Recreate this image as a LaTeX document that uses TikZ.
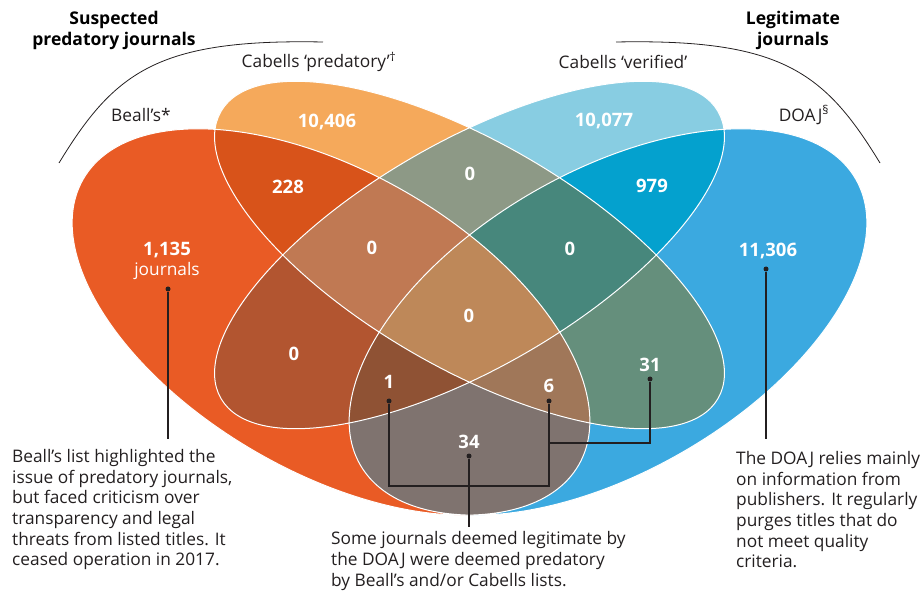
\documentclass[tikz,border=0pt]{standalone}
\usepackage{fontspec}
\setmainfont{Open Sans}

\definecolor{ink}{HTML}{231F20}
\definecolor{onlyA}{HTML}{E95B25}
\definecolor{onlyB}{HTML}{F5A95B}
\definecolor{onlyC}{HTML}{88CDE2}
\definecolor{onlyD}{HTML}{3BA9E0}
\definecolor{pairAB}{HTML}{D8531A}
\definecolor{pairAC}{HTML}{B25530}
\definecolor{pairAD}{HTML}{7F736F}
\definecolor{pairBC}{HTML}{8D9986}
\definecolor{pairBD}{HTML}{658F7C}
\definecolor{pairCD}{HTML}{04A1CE}
\definecolor{tripABC}{HTML}{C07953}
\definecolor{tripABD}{HTML}{A07759}
\definecolor{tripACD}{HTML}{8F5234}
\definecolor{tripBCD}{HTML}{47877C}
\definecolor{quadABCD}{HTML}{BE8859}

% the four sets
\newcommand{\beallsSet}{(331,268) ellipse [x radius=286, y radius=150, rotate=-30]}
\newcommand{\cpredSet}{(469.5,335) ellipse [x radius=287, y radius=113, rotate=-30]}
\newcommand{\cverSet}{(469.5,335) ellipse [x radius=287, y radius=113, rotate=30]}
\newcommand{\doajSet}{(608,268) ellipse [x radius=286, y radius=150, rotate=30]}

\begin{document}
\begin{tikzpicture}[x=1pt, y=1pt,
    numlbl/.style={text=white, font=\bfseries\fontsize{18.5}{18.5}\selectfont, inner sep=0pt},
    setname/.style={text=ink, font=\fontsize{17.3}{18}\selectfont, inner sep=0pt},
    grouphead/.style={text=black, font=\bfseries\fontsize{17.5}{21}\selectfont, align=center, inner sep=0pt},
    notetext/.style={text=ink, font=\fontsize{17.3}{20.7}\selectfont, align=left, inner sep=0pt, anchor=north west},
    leaddot/.style={circle, fill=ink, inner sep=0pt, minimum size=5pt},
    lead/.style={draw=ink, line width=1.1pt},
    outline/.style={draw=white, line width=1pt}]
    \useasboundingbox (0,0) rectangle (922,590);

    % single sets
    \fill[onlyA] \beallsSet;
    \fill[onlyD] \doajSet;
    \fill[onlyB] \cpredSet;
    \fill[onlyC] \cverSet;

    % pairs
    \begin{scope} \clip \beallsSet; \fill[pairAB] \cpredSet; \end{scope}
    \begin{scope} \clip \beallsSet; \fill[pairAC] \cverSet; \end{scope}
    \begin{scope} \clip \beallsSet; \fill[pairAD] \doajSet; \end{scope}
    \begin{scope} \clip \cpredSet; \fill[pairBC] \cverSet; \end{scope}
    \begin{scope} \clip \cpredSet; \fill[pairBD] \doajSet; \end{scope}
    \begin{scope} \clip \cverSet; \fill[pairCD] \doajSet; \end{scope}

    % triples
    \begin{scope} \clip \beallsSet; \clip \cpredSet; \fill[tripABC] \cverSet; \end{scope}
    \begin{scope} \clip \beallsSet; \clip \cpredSet; \fill[tripABD] \doajSet; \end{scope}
    \begin{scope} \clip \beallsSet; \clip \cverSet; \fill[tripACD] \doajSet; \end{scope}
    \begin{scope} \clip \cpredSet; \clip \cverSet; \fill[tripBCD] \doajSet; \end{scope}

    % all four
    \begin{scope} \clip \beallsSet; \clip \cpredSet; \clip \cverSet; \fill[quadABCD] \doajSet; \end{scope}

    \path[outline] \beallsSet \cpredSet \cverSet \doajSet;

    % group arcs
    \draw[ink, line width=0.8pt] (59,427) .. controls (114.6,518.4) and (158,551.3) .. (323,548);
    \draw[ink, line width=0.8pt] (880,427) .. controls (824.4,518.4) and (781,551.3) .. (616,548);

    \node[grouphead] (suspect) at (114,560) {Suspected\\predatory journals};
    \node[grouphead] (legit) at (793,560) {Legitimate\\journals};

    \node[setname] (cpredName) at (319,528) {Cabells ‘predatory’\textsuperscript{†}};
    \node[setname] (cverName) at (623,528) {Cabells ‘verified’};
    \node[setname] (beallsName) at (141,475) {Beall’s*};
    \node[setname] (doajName) at (804,475) {DOAJ\textsuperscript{§}};

    % counts
    \node[numlbl] (nB) at (327,468) {10,406};
    \node[numlbl] (nC) at (604,469) {10,077};
    \node[numlbl] (nAB) at (288,403) {228};
    \node[numlbl] (nCD) at (652,404) {979};
    \node[numlbl] (nBC) at (470,416) {0};
    \node[numlbl] (nABC) at (372,342) {0};
    \node[numlbl] (nBCD) at (570,341) {0};
    \node[numlbl] (nA) at (167,340) {1,135};
    \node[setname, text=white] (nAunit) at (167,319) {journals};
    \node[numlbl] (nD) at (768,339) {11,306};
    \node[numlbl] (nAC) at (294,236) {0};
    \node[numlbl] (nABCD) at (469,274) {0};
    \node[numlbl] (nBD) at (650,225) {31};
    \node[numlbl] (nACD) at (389,208) {1};
    \node[numlbl] (nABD) at (549,204) {6};
    \node[numlbl] (nAD) at (469,148) {34};

    % leader dots
    \node[leaddot] (dA) at (168,301) {};
    \node[leaddot] (dD) at (766,321) {};
    \node[leaddot] (dACD) at (389,189) {};
    \node[leaddot] (dABD) at (549,189) {};
    \node[leaddot] (dBD) at (650,211) {};
    \node[leaddot] (dAD) at (469,134) {};

    % notes
    \node[notetext] (noteA) at (12,141) {Beall’s list highlighted the\\issue of predatory journals,\\but faced criticism over\\transparency and legal\\threats from listed titles. It\\ceased operation in 2017.};
    \node[notetext] (noteAD) at (331,58.5) {Some journals deemed legitimate by\\the DOAJ were deemed predatory\\by Beall’s and/or Cabells lists.};
    \node[notetext] (noteD) at (736,139) {The DOAJ relies mainly\\on information from\\publishers. It regularly\\purges titles that do\\not meet quality\\criteria.};

    \coordinate (endA) at (168,151);
    \coordinate (endD) at (766,151);
    \coordinate (endAD) at (469,63);
    \coordinate (lowBar) at (469,104);
    \coordinate (highBar) at (600,147);

    \draw[lead] (dA) -- (endA);
    \draw[lead] (dD) -- (endD);
    \draw[lead] (dAD) -- (endAD);
    \draw[lead] (dACD) -- (dACD |- lowBar) -- (dABD |- lowBar) -- (dABD);
    \draw[lead] (dBD) -- (dBD |- highBar) -- (dABD |- highBar);
\end{tikzpicture}
\end{document}
